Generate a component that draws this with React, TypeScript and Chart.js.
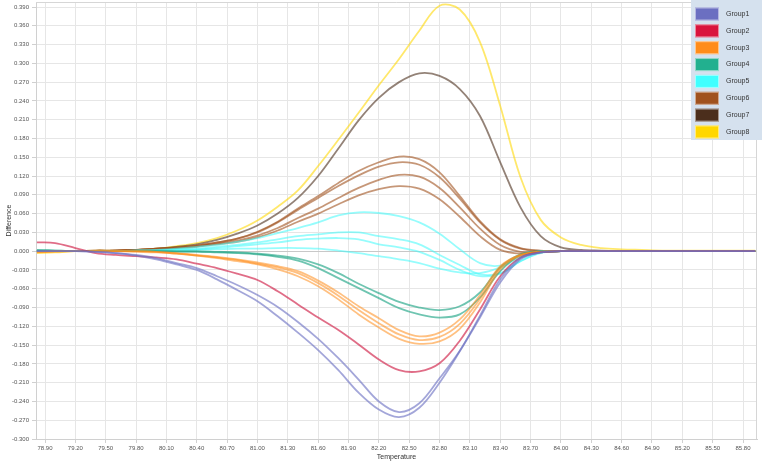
import React, { useEffect, useRef } from 'react';
import { Chart, registerables } from 'chart.js';

Chart.register(...registerables);

const FONT = '"Liberation Sans", Arial, sans-serif';

const temperatures = [
  78.82, 79.0, 79.2, 79.4, 79.6, 79.8, 80.0, 80.2, 80.4, 80.6,
  80.8, 81.0, 81.2, 81.4, 81.6, 81.8, 82.0, 82.2, 82.4, 82.6,
  82.8, 83.0, 83.2, 83.4, 83.6, 83.8, 84.0, 84.2, 84.4, 84.6,
  84.8, 85.0, 85.3, 85.6, 85.92,
];

const group1a = [
  0, 0, 0, -0.001, -0.003, -0.006, -0.011, -0.019, -0.027, -0.040,
  -0.054, -0.070, -0.089, -0.113, -0.140, -0.171, -0.205, -0.240, -0.257, -0.243,
  -0.203, -0.159, -0.103, -0.045, -0.011, -0.002, 0, 0, 0, 0,
  0, 0, 0, 0, 0,
];
const group1b = [
  0, 0, 0, -0.001, -0.003, -0.007, -0.013, -0.021, -0.030, -0.045,
  -0.062, -0.080, -0.104, -0.130, -0.158, -0.190, -0.226, -0.253, -0.265, -0.250,
  -0.210, -0.160, -0.106, -0.050, -0.013, -0.002, 0, 0, 0, 0,
  0, 0, 0, 0, 0,
];
const group2 = [
  0.014, 0.013, 0.005, -0.003, -0.006, -0.008, -0.010, -0.013, -0.020, -0.027,
  -0.036, -0.046, -0.064, -0.085, -0.106, -0.126, -0.149, -0.173, -0.190, -0.192,
  -0.179, -0.143, -0.093, -0.040, -0.010, -0.002, 0, 0, 0, 0,
  0, 0, 0, 0, 0,
];
const group3a = [
  -0.001, 0, 0, 0, 0, 0, -0.001, -0.003, -0.006, -0.009,
  -0.013, -0.018, -0.024, -0.032, -0.047, -0.066, -0.088, -0.107, -0.126, -0.136,
  -0.130, -0.109, -0.070, -0.024, -0.006, -0.001, 0, 0, 0, 0,
  0, 0, 0, 0, 0,
];
const group3b = [
  -0.001, 0, 0, 0, 0, 0, -0.001, -0.004, -0.007, -0.010,
  -0.014, -0.020, -0.026, -0.035, -0.051, -0.071, -0.094, -0.115, -0.133, -0.142,
  -0.137, -0.116, -0.076, -0.026, -0.006, -0.001, 0, 0, 0, 0,
  0, 0, 0, 0, 0,
];
const group3c = [
  -0.002, -0.001, 0, 0, 0, -0.001, -0.002, -0.004, -0.007, -0.011,
  -0.016, -0.021, -0.029, -0.040, -0.056, -0.077, -0.101, -0.122, -0.140, -0.148,
  -0.144, -0.124, -0.082, -0.029, -0.007, -0.001, 0, 0, 0, 0,
  0, 0, 0, 0, 0,
];
const group4a = [
  0.001, 0.001, 0, 0, 0, 0, 0, 0, 0, -0.001,
  -0.002, -0.004, -0.007, -0.012, -0.021, -0.035, -0.052, -0.067, -0.081, -0.090,
  -0.094, -0.088, -0.066, -0.026, -0.005, 0, 0, 0, 0, 0,
  0, 0, 0, 0, 0,
];
const group4b = [
  0.002, 0.001, 0, 0, 0, 0, 0, -0.001, -0.001, -0.002,
  -0.003, -0.005, -0.009, -0.015, -0.027, -0.043, -0.059, -0.075, -0.091, -0.101,
  -0.106, -0.101, -0.074, -0.032, -0.006, -0.001, 0, 0, 0, 0,
  0, 0, 0, 0, 0,
];
const group5a = [
  0, 0, 0, 0, 0, 0.001, 0.002, 0.004, 0.007, 0.010,
  0.015, 0.021, 0.029, 0.037, 0.046, 0.057, 0.062, 0.061, 0.056, 0.046,
  0.028, 0.003, -0.019, -0.023, -0.008, 0, 0, 0, 0, 0,
  0, 0, 0, 0, 0,
];
const group5b = [
  0, 0, 0, 0, 0, 0.001, 0.001, 0.003, 0.004, 0.007,
  0.010, 0.014, 0.019, 0.024, 0.027, 0.030, 0.030, 0.024, 0.019, 0.011,
  -0.006, -0.022, -0.037, -0.035, -0.016, -0.002, 0, 0, 0, 0,
  0, 0, 0, 0, 0,
];
const group5c = [
  0, 0, 0, 0, 0, 0.001, 0.001, 0.002, 0.003, 0.005,
  0.008, 0.011, 0.014, 0.018, 0.020, 0.021, 0.019, 0.011, 0.006, -0.001,
  -0.014, -0.030, -0.040, -0.036, -0.016, -0.003, 0, 0, 0, 0,
  0, 0, 0, 0, 0,
];
const group5d = [
  0, 0, 0, 0, 0, 0, 0.001, 0.001, 0.002, 0.003,
  0.004, 0.004, 0.005, 0.005, 0.004, 0.001, -0.003, -0.008, -0.013, -0.019,
  -0.028, -0.034, -0.035, -0.026, -0.010, -0.002, 0, 0, 0, 0,
  0, 0, 0, 0, 0,
];
const group6a = [
  0, 0, 0, 0.001, 0.001, 0.002, 0.004, 0.006, 0.009, 0.014,
  0.020, 0.031, 0.047, 0.068, 0.088, 0.109, 0.128, 0.142, 0.151, 0.147,
  0.126, 0.088, 0.048, 0.019, 0.005, 0.001, 0, 0, 0, 0,
  0, 0, 0, 0, 0,
];
const group6b = [
  0, 0, 0, 0.001, 0.001, 0.002, 0.004, 0.006, 0.009, 0.014,
  0.020, 0.030, 0.046, 0.066, 0.085, 0.104, 0.121, 0.135, 0.142, 0.138,
  0.118, 0.084, 0.046, 0.018, 0.004, 0, 0, 0, 0, 0,
  0, 0, 0, 0, 0,
];
const group6c = [
  0, 0, 0, 0, 0.001, 0.002, 0.003, 0.005, 0.008, 0.012,
  0.017, 0.025, 0.037, 0.053, 0.068, 0.085, 0.101, 0.114, 0.122, 0.119,
  0.101, 0.070, 0.036, 0.010, -0.001, -0.001, 0, 0, 0, 0,
  0, 0, 0, 0, 0,
];
const group6d = [
  0, 0, 0, 0, 0.001, 0.002, 0.003, 0.005, 0.007, 0.011,
  0.015, 0.022, 0.033, 0.047, 0.060, 0.075, 0.089, 0.099, 0.104, 0.100,
  0.083, 0.055, 0.024, 0.002, -0.004, -0.002, 0, 0, 0, 0,
  0, 0, 0, 0, 0,
];
const group7 = [
  0, 0, 0, 0, 0.001, 0.002, 0.004, 0.007, 0.011, 0.018,
  0.028, 0.041, 0.060, 0.085, 0.120, 0.164, 0.209, 0.245, 0.270, 0.284,
  0.280, 0.259, 0.216, 0.142, 0.070, 0.024, 0.006, 0.002, 0.001, 0,
  0, 0, 0, 0, 0,
];
const group8 = [
  -0.003, -0.002, 0, 0.001, 0.001, 0.002, 0.004, 0.008, 0.013, 0.021,
  0.033, 0.049, 0.071, 0.097, 0.136, 0.178, 0.221, 0.265, 0.307, 0.352,
  0.392, 0.386, 0.334, 0.232, 0.118, 0.050, 0.022, 0.010, 0.005, 0.003,
  0.002, 0.001, 0.001, 0.001, 0.001,
];

const groupNames = ['Group1', 'Group2', 'Group3', 'Group4', 'Group5', 'Group6', 'Group7', 'Group8'];
const seriesByGroup = [
  [group1a, group1b],
  [group2],
  [group3a, group3b, group3c],
  [group4a, group4b],
  [group5a, group5b, group5c, group5d],
  [group6a, group6b, group6c, group6d],
  [group7],
  [group8],
];
const legendColors = ['#6b6fc1', '#d9143d', '#ff8c1a', '#22b08f', '#40ffff', '#a0521e', '#4b2e1c', '#ffd700'];
const lineColors = [
  'rgba(107,111,193,0.62)',
  'rgba(205,20,61,0.62)',
  'rgba(255,140,26,0.55)',
  'rgba(34,166,135,0.65)',
  'rgba(64,250,250,0.55)',
  'rgba(160,82,30,0.6)',
  'rgba(75,46,28,0.6)',
  'rgba(255,215,0,0.58)',
];

const xTickValues = [
  78.9, 79.2, 79.5, 79.8, 80.1, 80.4, 80.7, 81.0, 81.3, 81.6, 81.9, 82.2,
  82.5, 82.8, 83.1, 83.4, 83.7, 84.0, 84.3, 84.6, 84.9, 85.2, 85.5, 85.8,
];
const yTickValues = [
  -0.3, -0.27, -0.24, -0.21, -0.18, -0.15, -0.12, -0.09, -0.06, -0.03, 0,
  0.03, 0.06, 0.09, 0.12, 0.15, 0.18, 0.21, 0.24, 0.27, 0.3, 0.33, 0.36, 0.39,
];

const frameAndLegend = {
  id: 'frameAndLegend',
  beforeDatasetsDraw(chart: any) {
    const { ctx, chartArea } = chart;
    const { left, top, right, bottom } = chartArea;
    ctx.save();
    ctx.strokeStyle = '#d6d6d6';
    ctx.lineWidth = 1;
    ctx.beginPath();
    ctx.moveTo(left, top + 0.5);
    ctx.lineTo(right - 0.5, top + 0.5);
    ctx.lineTo(right - 0.5, bottom);
    ctx.stroke();
    ctx.restore();
  },
  afterDraw(chart: any) {
    const { ctx } = chart;
    ctx.save();
    ctx.fillStyle = '#d5e1ee';
    ctx.fillRect(691, 0, 71, 140);
    ctx.font = `7px ${FONT}`;
    ctx.textBaseline = 'middle';
    ctx.textAlign = 'left';
    groupNames.forEach((name, i) => {
      const cy = 14 + i * 16.85;
      ctx.fillStyle = legendColors[i];
      ctx.fillRect(695, cy - 6.5, 24, 13);
      ctx.strokeStyle = 'rgba(255,255,255,0.5)';
      ctx.lineWidth = 1;
      ctx.strokeRect(695.5, cy - 6, 23, 12);
      ctx.fillStyle = '#333333';
      ctx.fillText(name, 726, cy);
    });
    ctx.restore();
  },
};

export default function App() {
  const ref = useRef<HTMLCanvasElement>(null);

  useEffect(() => {
    const canvas = ref.current;
    if (!canvas) return;
    const datasets: any[] = [];
    seriesByGroup.forEach((list, g) => {
      list.forEach((vals, k) => {
        datasets.push({
          label: `${groupNames[g]}-${k + 1}`,
          data: temperatures.map((t, i) => ({ x: t, y: vals[i] })),
          borderColor: lineColors[g],
          borderWidth: 1.8,
          pointRadius: 0,
          fill: false,
          tension: 0.35,
        });
      });
    });

    const chart = new Chart(canvas, {
      type: 'line',
      data: { datasets },
      options: {
        animation: false,
        responsive: false,
        layout: { padding: { top: 2, right: 5, left: 0, bottom: 0 } },
        plugins: { legend: { display: false }, tooltip: { enabled: false } },
        scales: {
          x: {
            type: 'linear',
            min: 78.811,
            max: 85.938,
            afterBuildTicks: (s: any) => {
              s.ticks = xTickValues.map((v) => ({ value: v }));
            },
            afterFit: (s: any) => {
              s.height = 23;
              s.paddingLeft = 0;
              s.paddingRight = 0;
            },
            ticks: {
              callback: (v: any) => Number(v).toFixed(2),
              font: { family: FONT, size: 6 },
              color: '#555555',
              padding: 2,
              maxRotation: 0,
              autoSkip: false,
            },
            grid: { color: '#e6e6e6', tickLength: 4, tickColor: '#d0d0d0' },
            border: { color: '#d0d0d0' },
            title: {
              display: true,
              text: 'Temperature',
              font: { family: FONT, size: 7 },
              color: '#333333',
              padding: { top: 0, bottom: 1 },
            },
          },
          y: {
            type: 'linear',
            min: -0.3,
            max: 0.398,
            afterBuildTicks: (s: any) => {
              s.ticks = yTickValues.map((v) => ({ value: v }));
            },
            afterFit: (s: any) => {
              s.width = 36;
              s.paddingTop = 0;
              s.paddingBottom = 0;
            },
            ticks: {
              callback: (v: any) => (Math.abs(Number(v)) < 1e-9 ? '0.000' : Number(v).toFixed(3)),
              font: { family: FONT, size: 6 },
              color: '#555555',
              padding: 3,
              autoSkip: false,
            },
            grid: {
              color: (c: any) => (c.tick && Math.abs(c.tick.value) < 1e-9 ? '#c8c8c8' : '#e6e6e6'),
              tickLength: 4,
              tickColor: '#d0d0d0',
            },
            border: { color: '#d0d0d0' },
            title: {
              display: true,
              text: 'Difference',
              font: { family: FONT, size: 7 },
              color: '#333333',
              padding: { top: 5, bottom: 0 },
            },
          },
        },
      },
      plugins: [frameAndLegend],
    } as any);

    return () => chart.destroy();
  }, []);

  return (
    <div style={{ position: 'fixed', left: 0, top: 0, width: 762, height: 462, background: '#ffffff' }}>
      <canvas ref={ref} width={762} height={462} style={{ display: 'block' }} />
    </div>
  );
}
